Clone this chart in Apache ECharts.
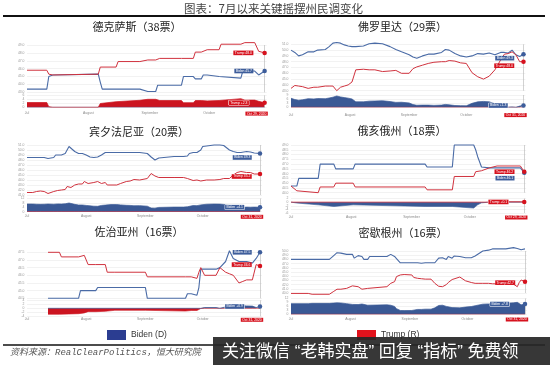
<!DOCTYPE html>
<html><head><meta charset="utf-8">
<script src="https://cdn.jsdelivr.net/npm/echarts@6/dist/echarts.min.js"></script>
<style>html,body{margin:0;padding:0;background:#fff}#c{width:550px;height:365px}</style>
</head><body><div id="c"></div>
<script>
// ---------- data ----------
const monthDays = [0, 31, 62, 92];           // days since Jul 1
const monthNames = ['Jul', 'August', 'September', 'October'];
const stateTitles = ['德克萨斯（38票）', '佛罗里达（29票）', '宾夕法尼亚（20票）', '俄亥俄州（18票）', '佐治亚州（16票）', '密歇根州（16票）'];
const endDates = ['Oct 29, 2020', 'Oct 31, 2020', 'Oct 31, 2020', 'Oct 29, 2020', 'Oct 31, 2020', 'Oct 31, 2020'];
const leaders = ['Trump', 'Biden', 'Biden', 'Trump', 'Biden', 'Biden'];

const txDays  = [0,10,11,13,14,36,37,38,45,46,57,58,61,65,66,67,78,79,84,85,88,89,91,92,97,98,108,109,110,115,117,120];
const txTrump = [45.8,45.8,45.3,45.2,45.3,45.3,46.2,46.2,46.2,46.9,46.9,47.1,47.1,47.1,47.1,47.3,47.3,47.3,47.3,48.1,48.1,48.1,48.4,48.4,48.4,49.1,49.1,49.1,49.3,49.3,48.2,48.0];
const txBiden = [43.4,43.4,45.0,45.2,45.3,45.3,44.3,43.4,43.4,43.4,43.4,43.2,43.1,43.1,43.9,43.9,43.9,45.0,45.0,44.7,44.7,45.2,45.2,45.0,45.0,44.8,44.8,45.7,45.7,45.7,45.2,45.7];

const flDays  = [0,2,4,6,9,12,14,18,20,22,24,26,28,30,32,34,35,38,41,44,48,52,55,58,62,64,66,69,72,75,79,81,83,86,89,92,95,98,101,104,107,110,112,114,116,118,120,122];
const flBiden = [50.0,49.6,49.0,49.2,49.7,49.7,50.0,50.1,50.6,51.2,51.3,51.2,50.9,50.7,50.6,50.6,50.7,50.7,51.1,51.2,51.1,50.6,50.1,49.7,49.2,48.8,48.6,49.0,49.3,49.3,49.6,50.1,50.0,49.4,49.0,48.8,49.0,49.4,49.3,49.5,49.2,49.6,49.6,49.5,50.0,49.2,48.9,49.3];
const flTrump = [43.4,43.9,43.8,43.7,43.4,43.6,43.6,43.8,43.8,43.8,43.0,43.6,43.8,44.0,44.5,46.6,46.7,46.7,46.6,46.6,46.3,46.4,46.5,46.0,46.0,46.8,47.1,47.4,47.7,47.9,48.0,48.0,48.2,48.1,47.8,47.7,46.1,45.4,45.0,45.5,46.6,48.3,49.3,49.4,49.7,49.2,48.0,48.0];

const paDays  = [0,3,5,7,9,10,11,12,14,15,16,18,19,20,21,22,23,25,27,28,29,30,31,32,33,35,37,38,39,40,41,42,44,47,49,50,52,54,56,57,59,63,64,65,66,67,68,69,70,77,82,84,85,87,89,91,92,94,98,101,103,104,106,108,110,112,113,115,117,119,120,122];
const paBiden = [48.5,48.5,48.5,48.5,48.5,48.4,48.3,48.3,48.5,49.0,49.0,49.0,49.1,49.3,50.0,50.7,50.3,49.7,49.3,49.3,49.3,49.2,49.0,48.7,48.6,48.5,48.6,48.7,49.0,49.3,49.5,49.5,49.5,49.5,49.5,49.5,49.5,49.5,49.5,49.3,49.5,49.3,49.0,48.6,48.3,48.0,47.9,48.4,48.7,48.7,48.7,48.8,49.3,49.5,49.5,50.0,50.7,50.8,51.0,51.0,50.9,50.5,50.0,49.7,49.5,49.5,49.5,49.7,49.6,49.4,49.3,49.3];
const paTrump = [41.5,41.5,41.7,41.8,41.7,41.8,41.3,41.5,41.7,42.0,41.9,42.0,42.3,42.1,42.7,42.8,42.5,43.0,43.2,43.0,43.2,43.7,43.3,43.3,43.3,43.5,43.7,43.7,43.3,43.0,43.5,43.0,43.0,43.0,43.3,43.3,43.7,43.8,44.1,44.1,44.0,44.3,44.7,45.3,45.0,44.8,44.5,44.5,44.5,44.5,44.5,44.3,44.1,43.9,44.0,43.8,44.0,44.0,44.0,44.1,44.3,44.3,44.3,45.0,45.5,45.7,45.7,45.5,45.5,45.2,45.0,45.2];

const ohDays  = [0,3,4,14,15,22,23,32,33,69,70,83,84,94,95,96,98,102,106,118,120];
const ohBiden = [44.7,44.7,45.5,45.5,47.0,47.0,46.5,46.5,47.0,47.0,46.7,46.7,49.0,49.0,48.5,47.8,46.7,46.6,46.6,46.6,46.1];
const ohTrump = [44.7,44.2,44.0,44.0,44.6,44.6,45.0,45.0,44.6,44.6,44.3,44.3,45.7,45.7,46.2,46.3,46.3,46.6,46.8,46.8,46.2];

const gaDays  = [11,17,18,27,28,30,32,36,37,41,42,46,47,62,63,83,84,86,87,89,90,91,92,93,99,101,102,104,106,108,111,113,115,118,120,122];
const gaBiden = [44.5,44.5,44.5,44.5,45.0,45.0,45.0,45.0,45.2,45.2,45.2,45.2,45.2,45.2,44.5,44.5,44.8,44.8,44.7,44.7,45.2,46.4,46.4,46.4,46.4,46.5,46.5,46.9,47.6,47.1,46.9,46.9,46.9,46.8,47.1,47.5];
const gaTrump = [47.5,47.5,47.2,47.2,47.3,47.3,46.7,46.7,46.7,46.7,46.2,46.2,46.2,46.2,45.9,45.9,45.9,45.9,45.8,45.8,46.2,46.5,46.5,46.0,46.0,46.5,46.6,46.2,46.1,46.0,45.5,45.6,45.7,45.7,46.7,46.6];

const miDays  = [0,9,11,20,22,24,26,27,29,32,33,35,37,38,40,41,50,52,54,55,57,59,63,64,66,68,69,70,73,75,77,79,81,82,84,85,88,91,94,96,98,100,103,105,112,116,118,119,120,122];
const miBiden = [48.0,48.0,48.0,48.0,48.8,49.6,49.5,49.4,49.2,49.2,48.3,48.9,48.7,48.0,48.0,48.7,48.7,49.2,48.7,48.2,47.2,47.2,47.2,47.1,47.2,47.1,46.9,47.2,47.2,47.2,48.3,48.4,48.0,48.7,48.3,48.8,48.7,48.4,48.4,48.8,49.4,50.0,50.2,50.5,50.5,50.8,50.6,50.2,50.3,50.5];
const miTrump = [39.9,39.9,39.7,39.7,40.3,40.9,40.9,41.0,41.1,41.7,41.9,41.5,40.9,41.0,41.1,41.5,41.5,42.3,42.7,43.9,44.3,44.4,44.3,43.7,43.5,43.4,43.3,43.3,43.3,42.3,41.6,41.5,42.0,42.5,43.2,43.5,43.8,42.9,42.5,42.3,42.3,42.3,42.3,42.2,42.1,42.1,41.5,42.5,43.1,42.7];

const stateData = [
  [txDays, txBiden, txTrump], [flDays, flBiden, flTrump], [paDays, paBiden, paTrump],
  [ohDays, ohBiden, ohTrump], [gaDays, gaBiden, gaTrump], [miDays, miBiden, miTrump]
];

// ---------- layout / style ----------
const layout = [
  {x:27,  w:239.6, mT:45,    mB:92.3,  yMin:43,   yMax:49,   yInt:1,   sT:95.3,  sB:107.3, sMin:0,  sMax:6,  sInt:2, margin:4.5, tx:137,   ty:27,    dist:9, dyB:0, dyT:0},
  {x:291, w:234.4, mT:44.3,  mB:90.7,  yMin:43,   yMax:51,   yInt:1,   sT:95,    sB:107.3, sMin:0,  sMax:9,  sInt:3, margin:6,   tx:402.5, ty:27,    dist:7, dyB:4, dyT:4},
  {x:27,  w:234.9, mT:145,   mB:195,   yMin:41,   yMax:51,   yInt:1,   sT:198.5, sB:211.7, sMin:0,  sMax:12, sInt:4, margin:3.3, tx:139,   ty:131.5, dist:6, dyB:4, dyT:2.5},
  {x:291, w:235.2, mT:145,   mB:192.7, yMin:44,   yMax:49,   yInt:0.5, sT:198.5, sB:213,   sMin:-6, sMax:2,  sInt:2, margin:2.7, tx:402,   ty:131,   dist:7.5, dyB:5.5, dyT:0},
  {x:27,  w:234.9, mT:252.3, mB:298.3, yMin:44.5, yMax:47.5, yInt:0.5, sT:300.3, sB:316.3, sMin:-4, sMax:4,  sInt:2, margin:1.7, tx:139,   ty:232.3, dist:6, dyB:0, dyT:-1.5},
  {x:291, w:235.9, mT:251,   mB:293,   yMin:40,   yMax:50,   yInt:1,   sT:298.5, sB:314.3, sMin:0,  sMax:12, sInt:3, margin:3.4, tx:403,   ty:233.3, dist:7.5, dyB:0, dyT:1}
];
const C = {
  bidenLine:'#4a6ba6', trumpLine:'#d0323e',
  bidenFill:'#3a5995', trumpFill:'#cc1420',
  bidenTag:'#3d5d9b', trumpTag:'#d6121e'
};
const FONT = 'Liberation Sans, Arial, sans-serif';
const CJK = '"Noto Sans CJK SC", sans-serif';

const grid = [], xAxis = [], yAxis = [], series = [], graphic = [];

layout.forEach((L, i) => {
  const [days, biden, trump] = stateData[i];
  const n = days.length, last = days[n - 1];
  const lead = leaders[i];
  const sign = lead === 'Biden' ? 1 : -1;
  const spreadVals = days.map((d, k) => +(sign * (biden[k] - trump[k])).toFixed(2));
  const spLast = spreadVals[n - 1];
  const leadFill = lead === 'Biden' ? C.bidenFill : C.trumpFill;
  const otherFill = lead === 'Biden' ? C.trumpFill : C.bidenFill;
  const leadTag = lead === 'Biden' ? C.bidenTag : C.trumpTag;
  const g = grid.length;

  grid.push({left:L.x, top:L.mT, width:L.w, height:L.mB - L.mT});
  grid.push({left:L.x, top:L.sT, width:L.w, height:L.sB - L.sT});

  xAxis.push({gridIndex:g, type:'value', min:0, max:last + 1,
    axisLine:{show:false}, axisTick:{show:false}, splitLine:{show:false}, axisLabel:{show:false}});
  xAxis.push({gridIndex:g + 1, type:'value', min:0, max:last + 1,
    axisLine:{show:false}, axisTick:{show:false}, splitLine:{show:false},
    axisLabel:{
      customValues: monthDays.concat([last]),
      fontSize:3.4, color:'#8a8a8a', margin:L.margin, fontFamily:FONT, hideOverlap:false,
      formatter: v => {
        const k = monthDays.indexOf(v);
        return k >= 0 ? monthNames[k] : '{d|' + endDates[i] + '}{s|}';
      },
      rich:{
        d:{backgroundColor:C.trumpTag, color:'#fff', fontSize:3.4, lineHeight:3.6, padding:[0.5,1.5], fontFamily:FONT},
        s:{width:16}
      }
    }});

  yAxis.push({gridIndex:g, type:'value', min:L.yMin, max:L.yMax, interval:L.yInt,
    axisLine:{show:false}, axisTick:{show:false},
    axisLabel:{fontSize:3.4, color:'#9a9a9a', margin:2.5, fontFamily:FONT, formatter: v => v.toFixed(1)},
    splitLine:{lineStyle:{color:'#e4e4e4', width:0.5}}});
  yAxis.push({gridIndex:g + 1, type:'value', min:L.sMin, max:L.sMax, interval:L.sInt,
    axisLine:{show:false}, axisTick:{show:false},
    axisLabel:{fontSize:3.4, color:'#9a9a9a', margin:2.5, fontFamily:FONT},
    splitLine:{lineStyle:{color:'#e4e4e4', width:0.5}}});

  const tag = (text, x, y, color, dist, dy, border) => ({
    symbol:'circle', symbolSize:4.5, silent:true, animation:false,
    data:[{coord:[x, y], itemStyle:{color},
      label:{show:true, position:'left', distance:dist, offset:[0, dy], formatter:text,
        backgroundColor:color, color:'#fff', fontSize:3.4, lineHeight:3.6, padding:[0.5,1.4],
        fontFamily:FONT, borderColor: border ? '#fff' : 'transparent', borderWidth: border ? 0.5 : 0}}]
  });
  const cross = () => ({silent:true, symbol:'none', animation:false, label:{show:false},
    lineStyle:{color:'#b4b4b4', width:0.6, type:'solid'}, data:[{xAxis:last}]});

  series.push({name:'Biden (D)', type:'line', xAxisIndex:g, yAxisIndex:g, animation:false, clip:false,
    data: days.map((d, k) => [d, biden[k]]), showSymbol:false,
    lineStyle:{color:C.bidenLine, width:1.1}, itemStyle:{color:C.bidenLine},
    markPoint: tag('Biden ' + biden[n - 1].toFixed(1), last, biden[n - 1], C.bidenTag, L.dist, L.dyB, false)});
  series.push({name:'Trump (R)', type:'line', xAxisIndex:g, yAxisIndex:g, animation:false, clip:false,
    data: days.map((d, k) => [d, trump[k]]), showSymbol:false,
    lineStyle:{color:C.trumpLine, width:1.0}, itemStyle:{color:C.trumpLine},
    markPoint: tag('Trump ' + trump[n - 1].toFixed(1), last, trump[n - 1], C.trumpTag, L.dist, L.dyT, false),
    markLine: cross()});
  // spread: negative part (other candidate ahead) and positive part (final leader ahead)
  series.push({name:'spreadNeg' + i, type:'line', xAxisIndex:g + 1, yAxisIndex:g + 1, animation:false,
    data: days.map((d, k) => [d, Math.min(0, spreadVals[k])]), showSymbol:false,
    lineStyle:{width:0.6, color:otherFill}, itemStyle:{color:otherFill},
    areaStyle:{color:otherFill, opacity:1, origin:0}});
  series.push({name:'spreadPos' + i, type:'line', xAxisIndex:g + 1, yAxisIndex:g + 1, animation:false,
    data: days.map((d, k) => [d, Math.max(0, spreadVals[k])]), showSymbol:false,
    lineStyle:{width:0.7, color:leadFill}, itemStyle:{color:leadFill},
    areaStyle:{color:leadFill, opacity:1, origin:0},
    markPoint: tag(lead + ' +' + Math.abs(spLast).toFixed(1), last, spLast, leadTag, 13.5, 0, true),
    markLine: cross()});

  graphic.push({type:'text', x:L.tx, y:L.ty, style:{text:stateTitles[i], fontSize:11, fontFamily:CJK,
    fill:'#1e1e1e', align:'center', textAlign:'center', verticalAlign:'middle', textVerticalAlign:'middle'}});
});

graphic.push(
  {type:'text', x:184, y:9, style:{text:'图表：7月以来关键摇摆州民调变化', fontSize:11.5, fontFamily:CJK, fill:'#444',
    align:'left', textAlign:'left', verticalAlign:'middle', textVerticalAlign:'middle'}},
  {type:'line', shape:{x1:3, y1:16, x2:545, y2:16}, style:{stroke:'#111', lineWidth:2}},
  {type:'line', shape:{x1:3, y1:345, x2:545, y2:345}, style:{stroke:'#111', lineWidth:1.6}},
  {type:'text', x:10, y:353, style:{text:'资料来源：RealClearPolitics，恒大研究院', fontSize:9, fontStyle:'italic',
    fontFamily:'"Liberation Mono", "Noto Sans CJK SC", monospace', fill:'#555',
    align:'left', textAlign:'left', verticalAlign:'middle', textVerticalAlign:'middle'}},
  {type:'rect', z:100, shape:{x:213, y:337, width:337, height:28}, style:{fill:'rgba(38,38,38,0.92)'}},
  {type:'text', z:101, x:222, y:352, style:{text:'关注微信 “老韩实盘” 回复 “指标” 免费领', fontSize:17,
    fontFamily:'"Liberation Sans", "Noto Sans CJK SC", sans-serif', fill:'#fff',
    align:'left', textAlign:'left', verticalAlign:'middle', textVerticalAlign:'middle'}}
);

const chart = echarts.init(document.getElementById('c'), null, {renderer:'canvas'});
chart.setOption({
  animation:false,
  backgroundColor:'#fff',
  textStyle:{fontFamily:FONT},
  legend:[
    {left:102, top:325, icon:'rect', itemWidth:19, itemHeight:10, itemGap:4, selectedMode:false,
      textStyle:{fontSize:8.5, color:'#333', fontFamily:FONT},
      data:[{name:'Biden (D)', itemStyle:{color:'#2b3d91'}}]},
    {left:352, top:325, icon:'rect', itemWidth:19, itemHeight:10, itemGap:4, selectedMode:false,
      textStyle:{fontSize:8.5, color:'#333', fontFamily:FONT},
      data:[{name:'Trump (R)', itemStyle:{color:'#e3121c'}}]}
  ],
  grid, xAxis, yAxis, series, graphic
});
</script></body></html>
